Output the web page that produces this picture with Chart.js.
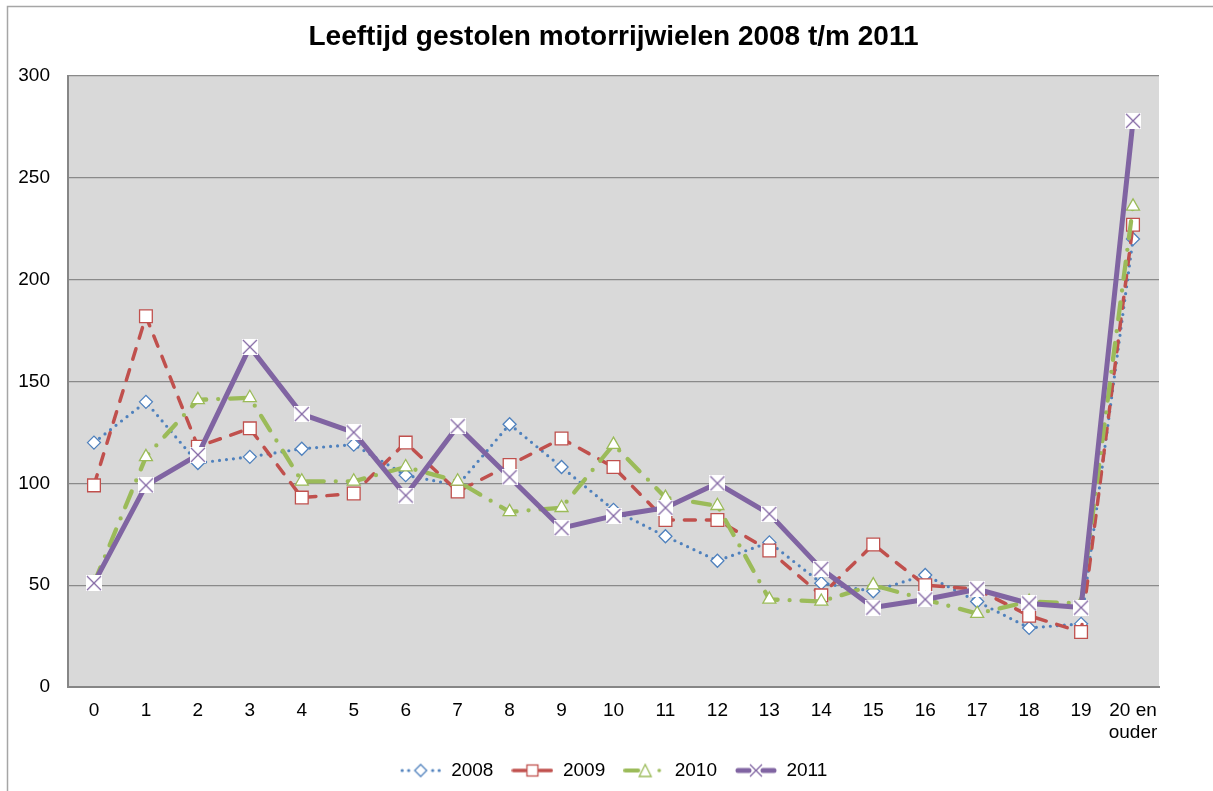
<!DOCTYPE html>
<html>
<head>
<meta charset="utf-8">
<script src="https://cdn.jsdelivr.net/npm/chart.js@4.4.1/dist/chart.umd.min.js"></script>
<style>
html,body{margin:0;padding:0;background:#fff;}
#wrap{width:1213px;height:791px;position:relative;}
canvas{display:block;}
</style>
</head>
<body>
<div id="wrap"><canvas id="c" width="1213" height="791"></canvas></div>
<script>
// ---- data ----
const chartTitle = 'Leeftijd gestolen motorrijwielen 2008 t/m 2011';
const categories = ['0','1','2','3','4','5','6','7','8','9','10','11','12','13','14','15','16','17','18','19',['20 en','ouder']];
const seriesNames = ['2008','2009','2010','2011'];
const values2008 = [120, 140, 110, 113, 117, 119, 104, 99, 129, 108, 87, 74, 62, 71, 51, 47, 55, 42, 29, 31, 220];
const values2009 = [99, 182, 118, 127, 93, 95, 120, 96, 109, 122, 108, 82, 82, 67, 45, 70, 50, 48, 35, 27, 227];
const values2010 = [51, 113, 141, 142, 101, 101, 108, 101, 86, 88, 119, 93, 89, 43, 42, 50, 43, 36, 42, 41, 236];
const values2011 = [51, 99, 114, 167, 134, 125, 94, 128, 103, 78, 84, 88, 100, 85, 58, 39, 43, 48, 41, 39, 278];
const yMin = 0, yMax = 300, yStep = 50;

// ---- styles ----
const BLUE = '#4F81BD', RED = '#C0504D', GREEN = '#9BBB59', PURPLE = '#8064A2';
const FONT = '"Liberation Sans", Arial, Helvetica, sans-serif';

function xMarker(size){
  const c = document.createElement('canvas');
  c.width = size; c.height = size;
  const g = c.getContext('2d');
  g.fillStyle = '#fff'; g.fillRect(0,0,size,size);
  g.strokeStyle = PURPLE; g.lineWidth = 1.2;
  g.beginPath();
  g.moveTo(1,1); g.lineTo(size-1,size-1);
  g.moveTo(size-1,1); g.lineTo(1,size-1);
  g.stroke();
  return c;
}

function legendImg(kind){
  const W = 42, H = 16, cy = 8;
  const c = document.createElement('canvas');
  c.width = W; c.height = H;
  const g = c.getContext('2d');
  g.lineCap = 'round';
  if (kind === 0){
    g.fillStyle = BLUE;
    [2.5, 9, 33, 39.5].forEach(x => { g.beginPath(); g.arc(x, cy, 1.6, 0, Math.PI*2); g.fill(); });
    g.beginPath(); g.moveTo(21,2); g.lineTo(27,cy); g.lineTo(21,14); g.lineTo(15,cy); g.closePath();
    g.fillStyle = '#fff'; g.fill(); g.strokeStyle = BLUE; g.lineWidth = 1.3; g.stroke();
  } else if (kind === 1){
    g.strokeStyle = RED; g.lineWidth = 3.5;
    g.beginPath(); g.moveTo(2,cy); g.lineTo(14,cy); g.moveTo(28,cy); g.lineTo(40,cy); g.stroke();
    g.fillStyle = '#fff'; g.fillRect(15,2,12,12);
    g.lineWidth = 1.3; g.strokeRect(15.5,2.5,11,11);
  } else if (kind === 2){
    g.strokeStyle = GREEN; g.lineWidth = 4;
    g.beginPath(); g.moveTo(2,cy); g.lineTo(15,cy); g.stroke();
    g.beginPath(); g.moveTo(22,2); g.lineTo(28,14); g.lineTo(16,14); g.closePath();
    g.fillStyle = '#fff'; g.fill(); g.lineWidth = 1.3; g.stroke();
    g.fillStyle = GREEN; g.beginPath(); g.arc(36, cy, 1.8, 0, Math.PI*2); g.fill();
  } else {
    g.strokeStyle = PURPLE; g.lineWidth = 5;
    g.beginPath(); g.moveTo(3,cy); g.lineTo(14,cy); g.moveTo(28,cy); g.lineTo(39,cy); g.stroke();
    g.lineWidth = 1.3; g.lineCap = 'butt';
    g.beginPath(); g.moveTo(15,2); g.lineTo(27,14); g.moveTo(27,2); g.lineTo(15,14); g.stroke();
  }
  return c;
}
const legendImages = [0,1,2,3].map(legendImg);

const bgPlugin = {
  id: 'bg',
  beforeDraw(chart){
    const {ctx, chartArea: a} = chart;
    ctx.save();
    ctx.fillStyle = '#fff';
    ctx.fillRect(0,0,chart.width,chart.height);
    ctx.strokeStyle = '#A6A6A6'; ctx.lineWidth = 1.5;
    ctx.strokeRect(7.5, 6.5, chart.width + 20, chart.height + 20);
    ctx.fillStyle = '#D9D9D9';
    ctx.fillRect(a.left, a.top, a.right - a.left, a.bottom - a.top);
    ctx.restore();
  }
};

const datasets = [
  { label: seriesNames[0], data: values2008, borderColor: BLUE, borderWidth: 3.2, borderDash: [0, 7], borderCapStyle: 'round',
    pointStyle: 'rectRot', pointRadius: 6.5, pointBorderColor: BLUE, pointBackgroundColor: '#fff', pointBorderWidth: 1.3, order: 4 },
  { label: seriesNames[1], data: values2009, borderColor: RED, borderWidth: 3.5, borderDash: [11, 11], borderCapStyle: 'round',
    pointStyle: 'rect', pointRadius: 9, pointBorderColor: RED, pointBackgroundColor: '#fff', pointBorderWidth: 1.3, order: 3 },
  { label: seriesNames[2], data: values2010, borderColor: GREEN, borderWidth: 4.3, borderDash: [17, 12, 0, 12], borderCapStyle: 'round',
    pointStyle: 'triangle', pointRadius: 7.5, pointBorderColor: GREEN, pointBackgroundColor: '#fff', pointBorderWidth: 1.3, order: 2 },
  { label: seriesNames[3], data: values2011, borderColor: PURPLE, borderWidth: 5, borderCapStyle: 'round', borderJoinStyle: 'round',
    pointStyle: xMarker(16), pointRadius: 8, order: 1 }
];

new Chart(document.getElementById('c'), {
  type: 'line',
  data: { labels: categories, datasets: datasets },
  plugins: [bgPlugin],
  options: {
    responsive: false,
    animation: false,
    events: [],
    elements: { line: { tension: 0, fill: false } },
    layout: { padding: { left: 0, right: 54, top: 0, bottom: 1 } },
    plugins: {
      title: {
        display: true, text: chartTitle, color: '#000', fullSize: false,
        font: { family: FONT, size: 28, weight: 'bold' },
        padding: { top: 20.5, bottom: 21.9 }
      },
      legend: {
        position: 'bottom', fullSize: false,
        labels: {
          usePointStyle: true, pointStyleWidth: 42, padding: 18, color: '#000',
          font: { family: FONT, size: 19 },
          generateLabels(chart){
            return chart.data.datasets.map((ds, i) => ({
              text: ds.label, pointStyle: legendImages[i], fillStyle: '#fff',
              strokeStyle: 'rgba(0,0,0,0)', lineWidth: 0, hidden: false, datasetIndex: i, fontColor: '#000'
            }));
          }
        }
      },
      tooltip: { enabled: false }
    },
    scales: {
      x: {
        offset: true,
        grid: { display: false, drawTicks: false },
        border: { display: true, color: '#868686', width: 2 },
        ticks: { padding: 13, color: '#000', maxRotation: 0, autoSkip: false, font: { family: FONT, size: 19, lineHeight: 1.15 } },
        afterFit(s){ s.height = 56; }
      },
      y: {
        min: yMin, max: yMax,
        ticks: { stepSize: yStep, padding: 18, color: '#000', font: { family: FONT, size: 19 } },
        grid: { color: '#8A8A8A', lineWidth: 1.3, drawTicks: false },
        border: { display: true, color: '#868686', width: 2 },
        afterFit(s){ s.width = 68; }
      }
    }
  }
});
</script>
</body>
</html>
